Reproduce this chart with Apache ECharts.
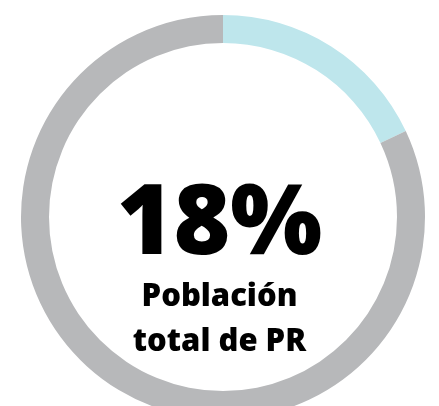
<!DOCTYPE html>
<html>
<head>
<meta charset="utf-8">
<title>Población total de PR</title>
<script src="https://cdn.jsdelivr.net/npm/echarts@6/dist/echarts.min.js"></script>
<style>
html, body { margin: 0; padding: 0; background: #fff; }
#chart { width: 439px; height: 406px; }
</style>
</head>
<body>
<div id="chart"></div>
<script>
var labels = ['Población total de PR', 'Resto'];
var values = [18, 82];
var colors = ['#bee6ec', '#b7b8ba'];
var bigText = '18%';
var captionLines = ['Población', 'total de PR'];

var chart = echarts.init(document.getElementById('chart'));

var pieData = labels.map(function (name, i) {
    return { name: name, value: values[i], itemStyle: { color: colors[i] } };
});

chart.setOption({
    animation: false,
    series: [{
        type: 'pie',
        center: [223, 217],
        radius: [174, 202],
        startAngle: 90,
        clockwise: true,
        silent: true,
        label: { show: false },
        labelLine: { show: false },
        itemStyle: { borderWidth: 0 },
        data: pieData
    }],
    graphic: [
        {
            type: 'text',
            left: 'center',
            top: 178,
            style: {
                text: bigText,
                font: '900 97px "Open Sans"',
                fill: '#000',
                textAlign: 'center'
            }
        },
        {
            type: 'text',
            left: 'center',
            top: 275,
            style: {
                text: captionLines.join('\n'),
                font: '800 31px "Open Sans"',
                lineHeight: 45,
                fill: '#000',
                textAlign: 'center'
            }
        }
    ]
});
</script>
</body>
</html>
